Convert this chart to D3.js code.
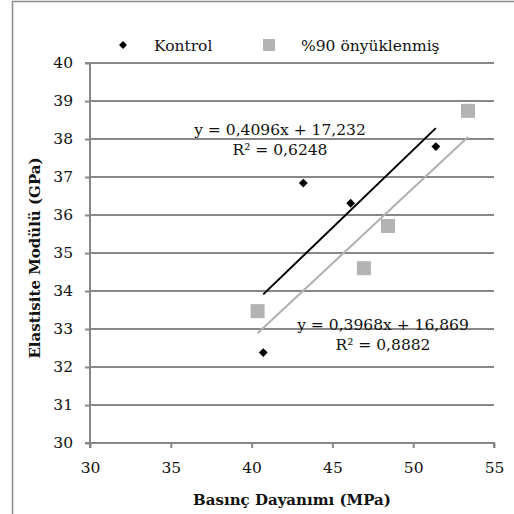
<!DOCTYPE html>
<html><head><meta charset="utf-8">
<script src="https://cdn.jsdelivr.net/npm/d3@7"></script>
<style>html,body{margin:0;padding:0;background:#fff;}svg{display:block;}</style>
</head><body>
<script>
const seriesNames = ["Kontrol", "%90 önyüklenmiş"];
const kontrolX = [40.72, 43.2, 46.13, 51.4];
const kontrolY = [32.38, 36.84, 36.31, 37.8];
const onyukX = [40.37, 46.95, 48.44, 53.39];
const onyukY = [33.47, 34.6, 35.71, 38.74];
const trendSlope = [0.4096, 0.3968];
const trendIntercept = [17.232, 16.869];
const eqLabels = [["y = 0,4096x + 17,232", "R² = 0,6248"], ["y = 0,3968x + 16,869", "R² = 0,8882"]];
const xTicks = [30, 35, 40, 45, 50, 55];
const yTicks = [30, 31, 32, 33, 34, 35, 36, 37, 38, 39, 40];
const xTitle = "Basınç Dayanımı (MPa)";
const yTitle = "Elastisite Modülü (GPa)";

const W = 514, H = 514;
const FONT = "DejaVu Serif";
const FS = 15.5;
const gridCol = "#878787";
const svg = d3.select("body").append("svg").attr("width", W).attr("height", H);

svg.append("rect").attr("x", 12.5).attr("y", 1.5).attr("width", 600).attr("height", 600)
  .attr("fill", "none").attr("stroke", "#8c8c8c").attr("stroke-width", 1.5);

const x = d3.scaleLinear().domain([30, 55]).range([90, 494]);
const y = d3.scaleLinear().domain([30, 40]).range([443, 63]);

// gridlines
svg.append("g").selectAll("line").data(yTicks.filter(d => d > 30)).join("line")
  .attr("x1", x(30)).attr("x2", x(55)).attr("y1", d => y(d)).attr("y2", d => y(d))
  .attr("stroke", gridCol).attr("stroke-width", 2);

// axes
const xAxis = svg.append("g").attr("transform", `translate(0,${y(30)})`)
  .call(d3.axisBottom(x).tickValues(xTicks).tickSize(5).tickPadding(14).tickFormat(d3.format("d")));
const yAxis = svg.append("g").attr("transform", `translate(${x(30)},0)`)
  .call(d3.axisLeft(y).tickValues(yTicks).tickSize(5).tickPadding(12).tickFormat(d3.format("d")));
[xAxis, yAxis].forEach(g => {
  g.attr("font-family", FONT).attr("font-size", FS);
  g.select(".domain").attr("stroke", gridCol).attr("stroke-width", 2);
  g.selectAll(".tick line").attr("stroke", gridCol).attr("stroke-width", 2);
  g.selectAll("text").style("font-family", FONT).style("font-size", FS + "px").attr("fill", "#111");
});
xAxis.selectAll(".domain").attr("d", `M${x(30)},5V0H${x(55)}V5`);
yAxis.selectAll(".domain").attr("d", `M-5,${y(40)}H0V${y(30)}H-5`);

// trendlines
const seriesX = [kontrolX, onyukX];
const lineCols = ["#000", "#b0b0b0"];
[0, 1].forEach(i => {
  const xs = seriesX[i];
  const x0 = d3.min(xs), x1 = d3.max(xs);
  svg.append("line")
    .attr("x1", x(x0)).attr("y1", y(trendSlope[i] * x0 + trendIntercept[i]))
    .attr("x2", x(x1)).attr("y2", y(trendSlope[i] * x1 + trendIntercept[i]))
    .attr("stroke", lineCols[i]).attr("stroke-width", 2);
});

// markers
const diamond = d3.symbol().type(d3.symbolDiamond2);
svg.append("g").selectAll("path").data(d3.zip(kontrolX, kontrolY)).join("path")
  .attr("d", diamond.size(50)())
  .attr("transform", d => `translate(${x(d[0])},${y(d[1])})`).attr("fill", "#000");
svg.append("g").selectAll("rect").data(d3.zip(onyukX, onyukY)).join("rect")
  .attr("x", d => x(d[0]) - 7).attr("y", d => y(d[1]) - 7).attr("width", 14).attr("height", 14)
  .attr("fill", "#b3b3b3");

// equation labels
const eqPos = [[280, 135], [383, 330]];
eqLabels.forEach((lab, i) => {
  lab.forEach((t, j) => {
    svg.append("text").attr("x", eqPos[i][0]).attr("y", eqPos[i][1] + j * 20)
      .attr("text-anchor", "middle").style("font-family", FONT).style("font-size", FS + "px")
      .attr("fill", "#111").text(t);
  });
});

// legend
svg.append("path").attr("d", diamond.size(40)()).attr("transform", "translate(123,45)").attr("fill", "#000");
svg.append("text").attr("x", 154).attr("y", 51).style("font-family", FONT).style("font-size", FS + "px").attr("fill", "#111").text(seriesNames[0]);
svg.append("rect").attr("x", 263).attr("y", 39).attr("width", 12).attr("height", 12).attr("fill", "#b3b3b3");
svg.append("text").attr("x", 301).attr("y", 51).style("font-family", FONT).style("font-size", FS + "px").attr("fill", "#111").text(seriesNames[1]);

// axis titles
svg.append("text").attr("x", 292).attr("y", 505).attr("text-anchor", "middle")
  .style("font-family", FONT).attr("font-weight", "bold").style("font-size", "15px").attr("fill", "#111").text(xTitle);
svg.append("text").attr("transform", `translate(40,${258}) rotate(-90)`).attr("text-anchor", "middle")
  .style("font-family", FONT).attr("font-weight", "bold").style("font-size", "15px").attr("fill", "#111").text(yTitle);
</script>
</body></html>
